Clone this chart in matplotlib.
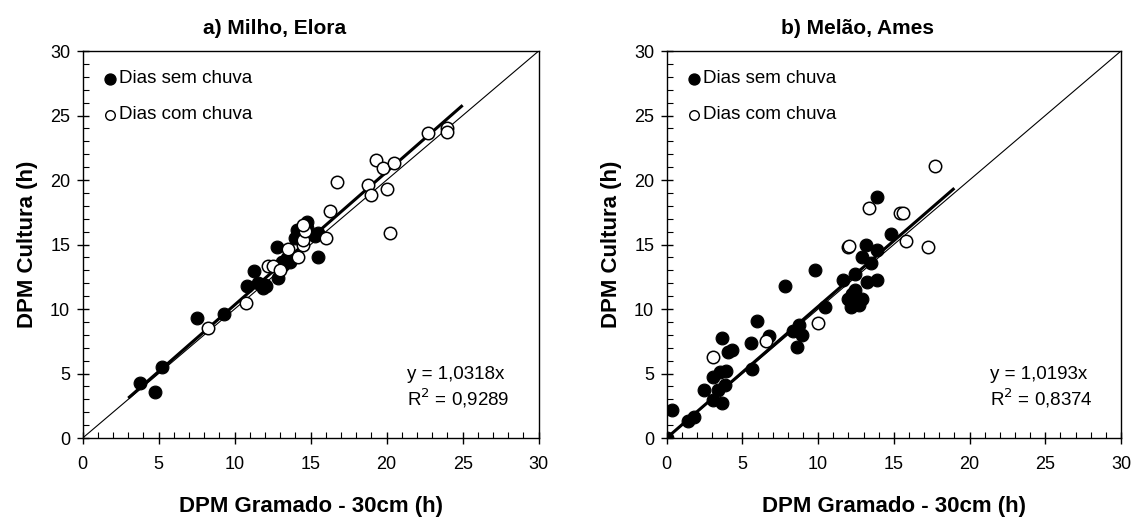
"""DPM cultura vs DPM gramado: milho (Elora) e melão (Ames)."""
import matplotlib
matplotlib.use("Agg")
import matplotlib.pyplot as plt
from matplotlib.ticker import MultipleLocator

plt.rcParams["font.family"] = ["Liberation Sans", "DejaVu Sans"]

# a) Milho, Elora
milho_sem_x = [3.77, 4.76, 5.19, 7.54, 9.30, 10.79, 11.27, 11.56, 11.84, 11.99, 12.04,
               12.76, 12.87, 13.09, 13.42, 13.64, 13.20, 13.97, 14.08, 14.73, 14.73,
               15.28, 15.50, 15.46]
milho_sem_y = [4.24, 3.54, 5.53, 9.28, 9.61, 11.78, 12.97, 11.99, 11.60, 11.86, 11.80,
               14.83, 12.38, 13.67, 13.93, 13.67, 13.41, 15.48, 16.12, 16.77, 16.25,
               15.66, 15.87, 14.06]
milho_com_x = [8.22, 10.74, 12.21, 12.50, 12.98, 13.53, 14.19, 14.52, 14.52, 14.62, 14.52,
               15.98, 16.27, 16.75, 18.75, 18.97, 19.27, 19.73, 19.99, 20.50, 20.22,
               22.74, 23.95, 23.99]
milho_com_y = [8.55, 10.49, 13.36, 13.36, 13.02, 14.63, 14.06, 14.96, 15.35, 16.07, 16.51,
               15.53, 17.60, 19.87, 19.61, 18.84, 21.55, 20.90, 19.28, 21.34, 15.87,
               23.62, 24.06, 23.75]

# b) Melão, Ames
melao_sem_x = [0.00, 0.37, 1.43, 1.83, 2.49, 3.08, 3.08, 3.41, 3.63, 3.85, 3.52, 3.92,
               3.67, 4.07, 4.33, 5.65, 5.57, 5.98, 6.78, 7.81, 8.36, 8.73, 8.91, 8.62,
               9.79, 10.45, 11.66, 12.43, 11.99, 12.17, 12.54, 12.87, 12.43, 13.25,
               13.86, 12.92, 13.16, 13.86, 13.49, 13.86, 14.81, 12.70, 12.21]
melao_sem_y = [0.00, 2.15, 1.32, 1.66, 3.76, 2.93, 4.75, 3.71, 2.75, 4.10, 5.08, 5.21,
               7.73, 6.64, 6.85, 5.34, 7.39, 9.10, 7.94, 11.78, 8.33, 8.79, 7.99, 7.03,
               13.00, 10.14, 12.27, 12.74, 10.79, 10.14, 10.53, 10.79, 11.44, 12.09,
               12.22, 14.03, 14.94, 14.60, 13.57, 18.70, 15.85, 10.35, 11.18]
melao_com_x = [3.08, 6.56, 9.97, 11.95, 12.06, 13.36, 15.40, 15.62, 15.80, 17.23, 17.71]
melao_com_y = [6.25, 7.50, 8.90, 14.81, 14.89, 17.80, 17.46, 17.46, 15.28, 14.81, 21.12]

titles = ["a) Milho, Elora", "b) Melão, Ames"]
slopes = [1.0318, 1.0193]
slope_labels = ["1,0318", "1,0193"]
r2_labels = ["0,9289", "0,8374"]
fit_range = [(3.0, 25.0), (0.0, 19.0)]
legend_labels = ["Dias sem chuva", "Dias com chuva"]

series = [(milho_sem_x, milho_sem_y, milho_com_x, milho_com_y),
          (melao_sem_x, melao_sem_y, melao_com_x, melao_com_y)]

fig = plt.figure(figsize=(11.34, 5.18), dpi=100)
axes = [fig.add_axes([0.0729, 0.1544, 0.4021, 0.7471]),
        fig.add_axes([0.5879, 0.1544, 0.4006, 0.7471])]

for i, ax in enumerate(axes):
    sx, sy, cx, cy = series[i]
    ax.plot([0, 30], [0, 30], color="black", lw=0.8, zorder=1)
    x0, x1 = fit_range[i]
    ax.plot([x0, x1], [slopes[i] * x0, slopes[i] * x1], color="black", lw=2.2,
            solid_capstyle="butt", zorder=2)
    ax.scatter(sx, sy, s=85, color="black", edgecolor="black", linewidth=0.8, zorder=3)
    ax.scatter(cx, cy, s=80, facecolor="white", edgecolor="black", linewidth=1.1, zorder=4)

    ax.set_xlim(0, 30)
    ax.set_ylim(0, 30)
    ax.xaxis.set_major_locator(MultipleLocator(5))
    ax.yaxis.set_major_locator(MultipleLocator(5))
    ax.xaxis.set_minor_locator(MultipleLocator(1))
    ax.yaxis.set_minor_locator(MultipleLocator(1))
    ax.tick_params(which="major", direction="inout", length=8, width=1.0, labelsize=13)
    ax.tick_params(axis="x", which="major", pad=9)
    ax.tick_params(axis="y", which="major", pad=5)
    ax.tick_params(which="minor", direction="in", length=4, width=0.8)
    for sp in ax.spines.values():
        sp.set_linewidth(1.0)

    ax.set_title(titles[i], fontsize=15, fontweight="bold", x=0.42, pad=12)
    ax.set_xlabel("DPM Gramado - 30cm (h)", fontsize=16, fontweight="bold")
    ax.set_ylabel("DPM Cultura (h)", fontsize=16, fontweight="bold")
    ax.xaxis.set_label_coords(0.5, -0.15)
    ax.yaxis.set_label_coords(-0.098, 0.5)

    # legend drawn by hand, as in the original
    ax.scatter([0.06], [0.928], s=62, color="black", transform=ax.transAxes,
               clip_on=False, zorder=5)
    ax.scatter([0.06], [0.835], s=48, facecolor="white", edgecolor="black",
               linewidth=1.0, transform=ax.transAxes, clip_on=False, zorder=5)
    for ly, lab in zip([0.928, 0.835], legend_labels):
        ax.text(0.08, ly, lab, transform=ax.transAxes, fontsize=13.5,
                va="center", ha="left")

    ax.text(0.711, 0.165, f"y = {slope_labels[i]}x", transform=ax.transAxes,
            fontsize=13.5, va="center", ha="left")
    ax.text(0.711, 0.103, f"R$^2$ = {r2_labels[i]}", transform=ax.transAxes,
            fontsize=13.5, va="center", ha="left")

fig.savefig("out.png", dpi=100)
